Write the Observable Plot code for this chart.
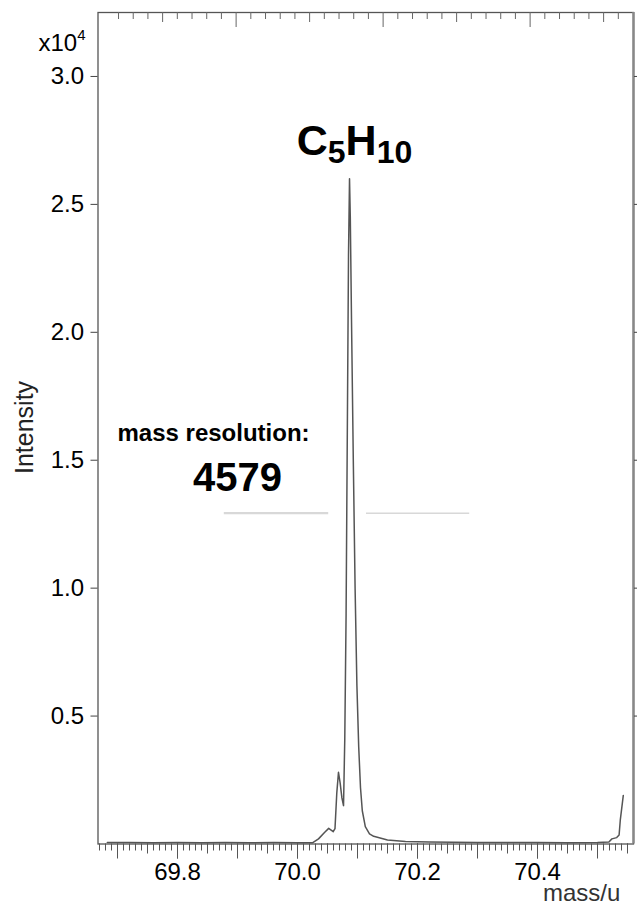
<!DOCTYPE html>
<html>
<head>
<meta charset="utf-8">
<script src="https://cdn.jsdelivr.net/npm/d3@7"></script>
<script src="https://cdn.jsdelivr.net/npm/@observablehq/plot@0.6"></script>
<style>
  html, body { margin: 0; padding: 0; background: white; }
  #chart { width: 637px; height: 906px; }
</style>
</head>
<body>
<div id="chart"></div>
<script>
// ---- data (mass in u, intensity in 10^4 counts) ----
const massValues = [
  69.683, 69.72, 69.76, 69.80, 69.84, 69.88, 69.92, 69.96, 70.00, 70.0255,
  70.035, 70.045, 70.052, 70.0595, 70.0625, 70.0655, 70.0683, 70.071, 70.074, 70.0767,
  70.0788, 70.081, 70.083, 70.085, 70.0867, 70.088, 70.090, 70.093, 70.096, 70.099,
  70.102, 70.105, 70.108, 70.113, 70.12, 70.127, 70.15, 70.18, 70.22, 70.26,
  70.30, 70.35, 70.40, 70.45, 70.50, 70.519, 70.524, 70.532, 70.536, 70.538,
  70.543
];
const intensityValues = [
  0.006, 0.006, 0.005, 0.006, 0.005, 0.006, 0.005, 0.006, 0.005, 0.005,
  0.02, 0.045, 0.061, 0.048, 0.06, 0.20, 0.28, 0.24, 0.18, 0.15,
  0.41, 0.90, 1.60, 2.30, 2.60, 2.45, 2.05, 1.50, 1.00, 0.62,
  0.38, 0.22, 0.13, 0.068, 0.04, 0.03, 0.016, 0.01, 0.008, 0.007,
  0.006, 0.006, 0.006, 0.005, 0.006, 0.008, 0.02, 0.025, 0.035, 0.094,
  0.19
];
const resolutionLevel = 1.293;
const resolutionX1 = [69.878, 70.115];
const resolutionX2 = [70.052, 70.287];
const resolutionWidths = [2.2, 1.4];

const yTicks = [0.5, 1.0, 1.5, 2.0, 2.5, 3.0];
const xLabelTicks = [69.8, 70.0, 70.2, 70.4];
const xMajorTicks = [69.7, 69.8, 69.9, 70.0, 70.1, 70.2, 70.3, 70.4, 70.5];
const xMediumTicks = [69.75, 69.85, 69.95, 70.05, 70.15, 70.25, 70.35, 70.45, 70.55];
const xMinorTicks = d3.range(6967, 7056).map(d => d / 100);
const topTickStart = 69.7017, topTickStep = 0.0245, topTickCount = 35;
const topTicks = d3.range(topTickCount).map(k => ({x: topTickStart + k * topTickStep, k}));

const xDomain = [69.6675, 70.56];
const yDomain = [0, 3.25];

const spectrum = massValues.map((m, i) => ({mass: m, intensity: intensityValues[i]}));
const resLines = resolutionX1.map((x1, i) => ({x1, x2: resolutionX2[i], y: resolutionLevel, w: resolutionWidths[i]}));

const marginTop = 12, marginBottom = 62.5;
const frameH = 906 - marginTop - marginBottom;

const svg = Plot.plot({
  width: 637,
  height: 906,
  marginTop, marginBottom,
  marginLeft: 97.5,
  marginRight: 4,
  x: {domain: xDomain},
  y: {domain: yDomain},
  style: {fontFamily: "'Liberation Sans', Arial, sans-serif", fontSize: "24px", background: "white", color: "black"},
  marks: [
    // resolution markers
    Plot.ruleY(resLines, {x1: "x1", x2: "x2", y: "y", stroke: "#d8d8d8", strokeWidth: "w"}),
    // spectrum
    Plot.line(spectrum, {x: "mass", y: "intensity", stroke: "#555", strokeWidth: 1.5}),
    // frame
    Plot.frame({stroke: "#555", strokeWidth: 1.3}),
    Plot.ruleX([xDomain[1]], {stroke: "#888", strokeWidth: 2.5}),
    // top inward ticks
    Plot.ruleX(topTicks.filter(d => (d.k - 8) % 10 !== 0 && (d.k - 3) % 10 !== 0), {x: "x", stroke: "#666", insetBottom: frameH - 7}),
    Plot.ruleX(topTicks.filter(d => (d.k - 3) % 10 === 0), {x: "x", stroke: "#666", insetBottom: frameH - 10}),
    Plot.ruleX(topTicks.filter(d => (d.k - 8) % 10 === 0), {x: "x", stroke: "#666", insetBottom: frameH - 15}),
    // left y axis
    Plot.axisY({ticks: yTicks, tickSize: 7, tickPadding: 7, tickFormat: d3.format(".1f"), label: null, stroke: "#444", fill: "black", fontSize: 24}),
    // right y axis ticks
    Plot.axisY({anchor: "right", ticks: yTicks, tickSize: 4, tickFormat: () => "", label: null, stroke: "#444"}),
    // bottom ticks
    Plot.axisX({ticks: xMinorTicks, tickSize: 7, tickFormat: () => "", label: null, stroke: "#555"}),
    Plot.axisX({ticks: xMediumTicks, tickSize: 10, tickFormat: () => "", label: null, stroke: "#555"}),
    Plot.axisX({ticks: xMajorTicks, tickSize: 15, tickFormat: () => "", label: null, stroke: "#555"}),
    Plot.axisX({ticks: xLabelTicks, tickSize: 15, tickPadding: 4, tickFormat: d3.format(".1f"), label: null, stroke: "#555", fill: "black", fontSize: 24}),
    // annotations
    Plot.text(["C5H10"], {x: 70.095, y: 2.692, text: d => d, fontSize: 43, fontWeight: "bold", textAnchor: "middle", lineAnchor: "bottom", fill: "black"}),
    Plot.text(["mass resolution:"], {x: 69.70, y: 1.577, text: d => d, fontSize: 24, fontWeight: "bold", textAnchor: "start", lineAnchor: "bottom", fill: "black"}),
    Plot.text(["4579"], {x: 69.90, y: 1.378, text: d => d, fontSize: 40, fontWeight: "bold", textAnchor: "middle", lineAnchor: "bottom", fill: "black"}),
    Plot.text(["x104"], {x: 69.6467, y: 3.098, text: d => d, fontSize: 24, textAnchor: "end", lineAnchor: "bottom", fill: "black"}),
    Plot.text(["Intensity"], {x: 69.545, y: 1.628, text: d => d, fontSize: 25, rotate: -90, textAnchor: "middle", lineAnchor: "middle", fill: "#222"}),
    Plot.text(["mass/u"], {x: 70.538, y: -0.221, text: d => d, fontSize: 24, textAnchor: "end", lineAnchor: "bottom", fill: "#333"})
  ]
});

// rich text: subscripts / superscript
const NS = "http://www.w3.org/2000/svg";
function rebuild(label, parts) {
  const t = [...svg.querySelectorAll("text")].find(e => e.textContent === label);
  if (!t) return;
  t.textContent = "";
  for (const p of parts) {
    const s = document.createElementNS(NS, "tspan");
    s.textContent = p.text;
    if (p.size) s.setAttribute("font-size", p.size);
    if (p.dy) s.setAttribute("dy", p.dy);
    t.appendChild(s);
  }
}
rebuild("C5H10", [
  {text: "C"}, {text: "5", size: 32, dy: 8}, {text: "H", dy: -8}, {text: "10", size: 32, dy: 8}
]);
rebuild("x104", [
  {text: "x10"}, {text: "4", size: 15, dy: -11}
]);

document.getElementById("chart").appendChild(svg);
</script>
</body>
</html>
